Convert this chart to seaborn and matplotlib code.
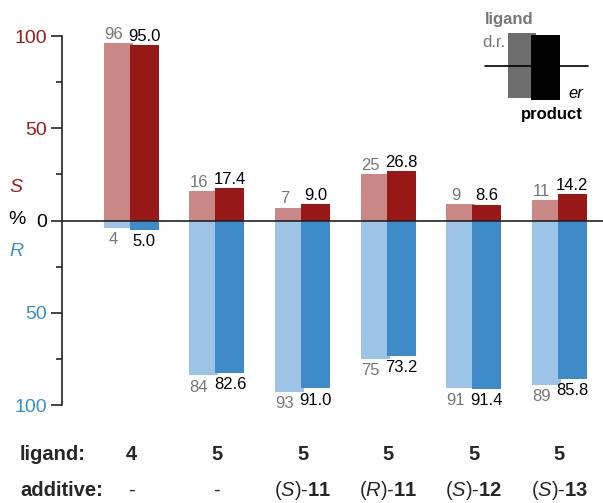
import matplotlib
matplotlib.use("Agg")
import matplotlib.pyplot as plt
import matplotlib.transforms as mtransforms
from matplotlib.patches import Rectangle
import seaborn as sns
import pandas as pd
import numpy as np

# data: ligand d.r. (light bars) and product er (dark bars), % S above / % R below
ligands = ["4", "5", "5", "5", "5", "5"]
additives = ["-", "-", ("S", "11"), ("R", "11"), ("S", "12"), ("S", "13")]
ligand_S = [96, 16, 7, 25, 9, 11]
ligand_R = [4, 84, 93, 75, 91, 89]
product_S = [95.0, 17.4, 9.0, 26.8, 8.6, 14.2]
product_R = [5.0, 82.6, 91.0, 73.2, 91.4, 85.8]

LIGHT_RED = "#C98886"
DARK_RED = "#981818"
LIGHT_BLUE = "#9DC3E6"
DARK_BLUE = "#3F8BCA"
TXT_RED = "#9B1C1C"
TXT_BLUE = "#3A8FCC"

sns.set_theme(style="white")
plt.rcParams["font.family"] = ["Liberation Sans", "DejaVu Sans"]
plt.rcParams["mathtext.fontset"] = "custom"
plt.rcParams["mathtext.rm"] = "Liberation Sans"
plt.rcParams["mathtext.it"] = "Liberation Sans:italic"
plt.rcParams["mathtext.bf"] = "Liberation Sans:bold"

OFF = 0.152
W = 0.34
idx = np.arange(len(ligands))

fig = plt.figure(figsize=(6.03, 5.03), dpi=100)
ax = fig.add_axes([0.1028, 0.1948, 0.8972, 0.7336])

light = pd.DataFrame({"x": np.concatenate([idx - OFF, idx - OFF]),
                      "y": ligand_S + [-v for v in ligand_R]})
dark = pd.DataFrame({"x": np.concatenate([idx + OFF, idx + OFF]),
                     "y": product_S + [-v for v in product_R]})

bar_kw = dict(x="x", y="y", native_scale=True, width=W, saturation=1,
              errorbar=None, linewidth=0, edgecolor="none", ax=ax)
sns.barplot(data=light.iloc[:6], color=LIGHT_RED, **bar_kw)
sns.barplot(data=light.iloc[6:], color=LIGHT_BLUE, **bar_kw)
sns.barplot(data=dark.iloc[:6], color=DARK_RED, **bar_kw)
sns.barplot(data=dark.iloc[6:], color=DARK_BLUE, **bar_kw)

# value labels
VFS = 12
for i in idx:
    ax.annotate(f"{ligand_S[i]}", (i - OFF - 0.06, ligand_S[i]), xytext=(0, 1),
                textcoords="offset points", ha="center", va="bottom",
                color="#777777", fontsize=VFS)
    ax.annotate(f"{ligand_R[i]}", (i - OFF - 0.06, -ligand_R[i]), xytext=(0, -3),
                textcoords="offset points", ha="center", va="top",
                color="#777777", fontsize=VFS)
    ax.annotate(f"{product_S[i]:.1f}", (i + OFF, product_S[i]), xytext=(0, 1),
                textcoords="offset points", ha="center", va="bottom",
                color="black", fontsize=VFS)
    ax.annotate(f"{product_R[i]:.1f}", (i + OFF, -product_R[i]), xytext=(0, -3),
                textcoords="offset points", ha="center", va="top",
                color="black", fontsize=VFS)

ax.axhline(0, color="#222222", lw=1.2, zorder=5)

ax.set_xlim(-0.81, 5.51)
ax.set_ylim(-100, 100)
ax.set_xticks([])
ax.set_xlabel("")
ax.set_ylabel("")
yt = [-100, -50, 0, 50, 100]
ax.set_yticks(yt)
ax.set_yticklabels([str(abs(v)) for v in yt], fontsize=14)
ax.set_yticks([-75, -25, 25, 75], minor=True)
for lbl, v in zip(ax.get_yticklabels(), yt):
    lbl.set_color(TXT_RED if v > 0 else (TXT_BLUE if v < 0 else "black"))
ax.tick_params(axis="y", which="major", direction="out", length=8, width=1.2,
               left=True, pad=3)
ax.tick_params(axis="y", which="minor", direction="out", length=4, width=1.2,
               left=True)
for s in ["top", "right", "bottom"]:
    ax.spines[s].set_visible(False)
ax.spines["left"].set_color("#222222")
ax.spines["left"].set_linewidth(1.2)

fig.text(16 / 603, 1 - 187 / 503, "S", color=TXT_RED, fontsize=14,
         style="italic", ha="center", va="center")
fig.text(17 / 603, 1 - 219 / 503, "%", color="black", fontsize=14,
         ha="center", va="center")
fig.text(16 / 603, 1 - 251 / 503, "R", color=TXT_BLUE, fontsize=14,
         style="italic", ha="center", va="center")

# bottom rows
BFS = 14.5
tr = mtransforms.blended_transform_factory(ax.transData, fig.transFigure)
fig.text(20 / 603, 1 - 455 / 503, "ligand:", fontsize=BFS, weight="bold",
         va="center", ha="left")
fig.text(20 / 603, 1 - 490 / 503, "additive:", fontsize=BFS, weight="bold",
         va="center", ha="left")
for i in idx:
    ax.text(i, 1 - 455 / 503, ligands[i], transform=tr, fontsize=BFS,
            weight="bold", ha="center", va="center")
    a = additives[i]
    s = "-" if a == "-" else rf"$(\mathit{{{a[0]}}})$-$\mathbf{{{a[1]}}}$"
    ax.text(i, 1 - 490 / 503, s, transform=tr, fontsize=BFS,
            ha="center", va="center")

# legend key (top right)
lg = fig.add_axes([0, 0, 1, 1], facecolor="none")
lg.set_xlim(0, 603)
lg.set_ylim(503, 0)
lg.axis("off")
lg.add_patch(Rectangle((508, 33), 28, 65, color="#6E6E6E", lw=0))
lg.add_patch(Rectangle((531, 35), 29, 65, color="black", lw=0))
lg.plot([485, 588], [66, 66], color="black", lw=1.2)
lg.text(509, 19, "ligand", color="#777777", weight="bold", fontsize=12,
        ha="center", va="center")
lg.text(482, 42, "d.r.", color="#777777", fontsize=12, ha="left", va="center")
lg.text(576, 93, "er", color="black", style="italic", fontsize=12,
        ha="center", va="center")
lg.text(552, 114, "product", color="black", weight="bold", fontsize=12,
        ha="center", va="center")

fig.savefig("out.png", dpi=100)
